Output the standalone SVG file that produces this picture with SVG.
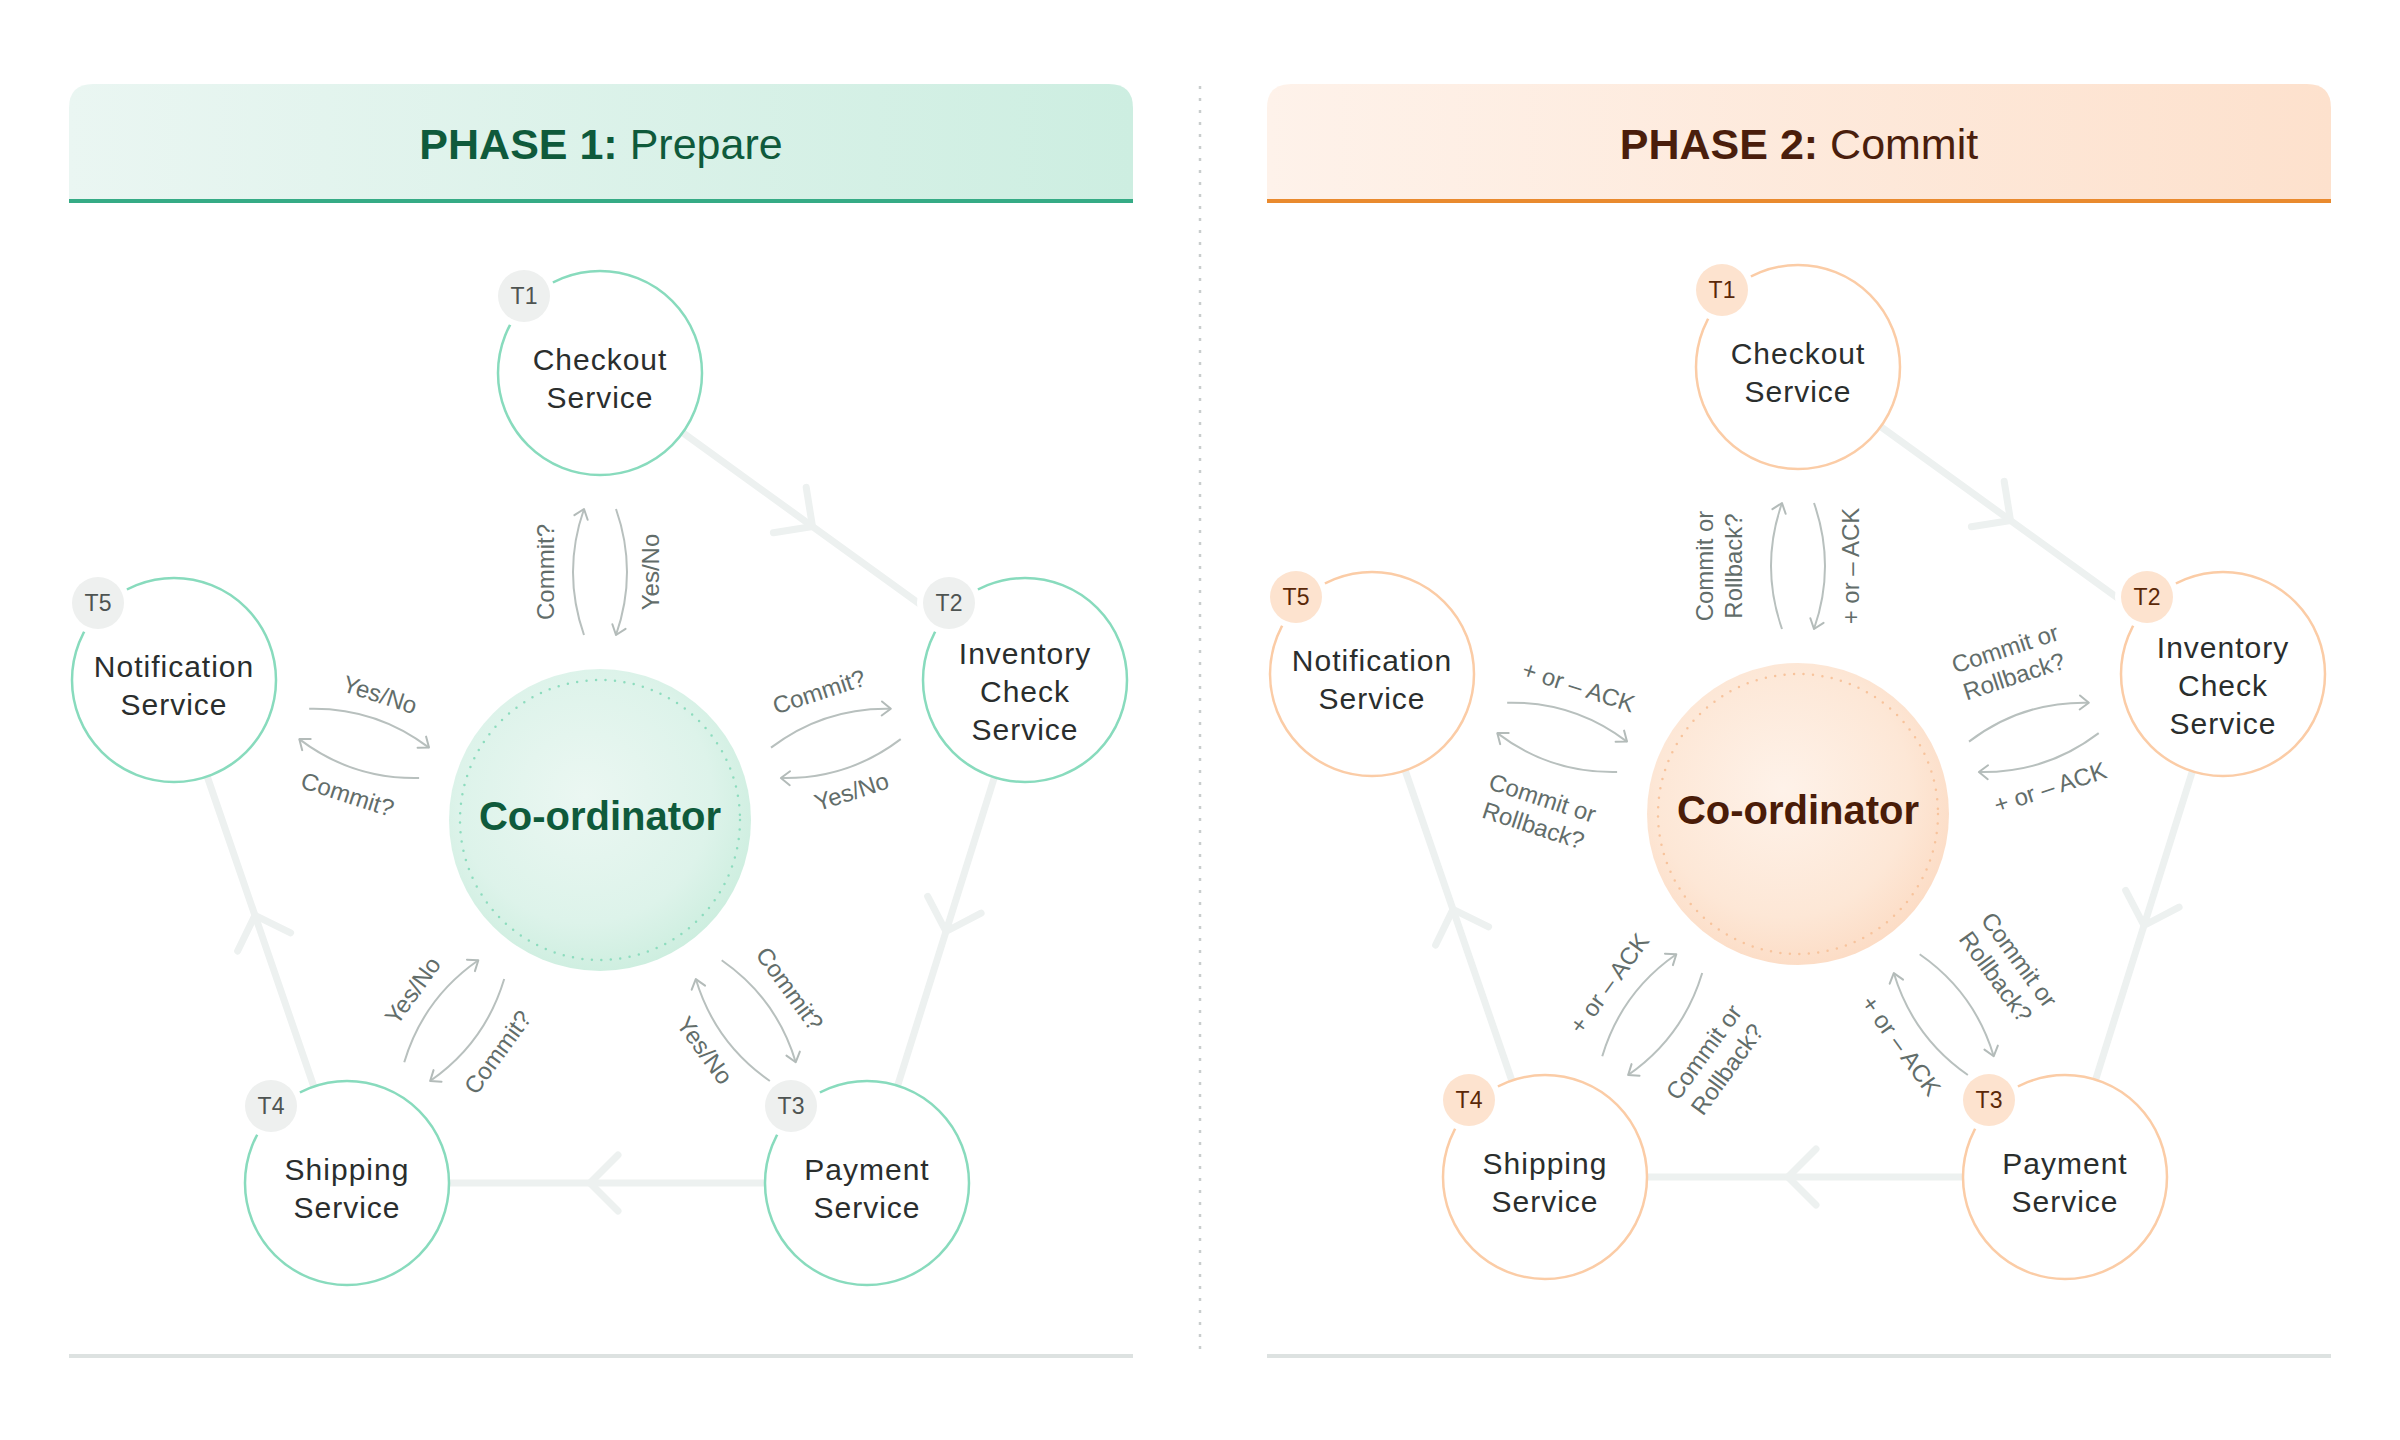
<svg xmlns="http://www.w3.org/2000/svg" width="2400" height="1440" viewBox="0 0 2400 1440">
<defs>
<linearGradient id="hg1" x1="0" y1="0" x2="1" y2="0"><stop offset="0" stop-color="#eaf6f2"/><stop offset="1" stop-color="#cdeee1"/></linearGradient>
<linearGradient id="hg2" x1="0" y1="0" x2="1" y2="0"><stop offset="0" stop-color="#fef2ea"/><stop offset="1" stop-color="#fde1cd"/></linearGradient>
<radialGradient id="cg1" cx="0.45" cy="0.42" r="0.6"><stop offset="0" stop-color="#ebf7f2"/><stop offset="0.7" stop-color="#ddf3ea"/><stop offset="1" stop-color="#cdeedf"/></radialGradient>
<radialGradient id="cg2" cx="0.45" cy="0.42" r="0.6"><stop offset="0" stop-color="#fef2e9"/><stop offset="0.7" stop-color="#fde7d6"/><stop offset="1" stop-color="#fcdcc5"/></radialGradient>
<marker id="ah" viewBox="-12 -10 14 20" markerWidth="14" markerHeight="20" refX="0" refY="0" orient="auto" markerUnits="userSpaceOnUse"><path d="M-9,-7 L0,0 L-9,7" fill="none" stroke="#b3bbb9" stroke-width="2" stroke-linecap="round" stroke-linejoin="round"/></marker>
<path id="chev" d="M-28,-28 L0,0 L-28,28"/>
</defs>
<style>
.ring{stroke:#edf1f0;stroke-width:7;stroke-linecap:round;stroke-linejoin:round;fill:none}
.arc{fill:none;stroke:#b8c0be;stroke-width:2;marker-end:url(#ah)}
.lbl{font-family:"Liberation Sans",Arial,sans-serif;font-size:24px;fill:#626d6a;text-anchor:middle}
.name{font-family:"Liberation Sans",Arial,sans-serif;font-size:30px;fill:#2a2e2d;text-anchor:middle;letter-spacing:1px}
.title{font-family:"Liberation Sans",Arial,sans-serif;font-size:43px;text-anchor:middle}
.coord{font-family:"Liberation Sans",Arial,sans-serif;font-size:40px;font-weight:bold;text-anchor:middle}
.n1{fill:#ffffff;stroke:#88dbbd;stroke-width:2.5}
.n2{fill:#ffffff;stroke:#fbcca6;stroke-width:2.5}
.bw{fill:#ffffff}
.b1{fill:#eef0ef}
.b2{fill:#fde3cf}
.bt{font-family:"Liberation Sans",Arial,sans-serif;font-size:23px;text-anchor:middle}
.bt1{fill:#4e5452}
.bt2{fill:#5a2808}
</style>
<rect x="0" y="0" width="2400" height="1440" fill="#ffffff"/>

<!-- headers -->
<g id="header1">
<path d="M69,199 V108 Q69,84 93,84 H1109 Q1133,84 1133,108 V199 Z" fill="url(#hg1)"/>
<rect x="69" y="199" width="1064" height="4" fill="#35ab85"/>
<text class="title" x="601" y="159" fill="#0f5a3b"><tspan font-weight="bold">PHASE 1:</tspan> Prepare</text>
</g>
<g id="header2">
<path d="M1267,199 V108 Q1267,84 1291,84 H2307 Q2331,84 2331,108 V199 Z" fill="url(#hg2)"/>
<rect x="1267" y="199" width="1064" height="4" fill="#e98a2e"/>
<text class="title" x="1799" y="159" fill="#4a1e0c"><tspan font-weight="bold">PHASE 2:</tspan> Commit</text>
</g>
<line x1="1200" y1="86" x2="1200" y2="1356" stroke="#c9cdcd" stroke-width="2.5" stroke-dasharray="3 9"/>
<rect x="69" y="1354" width="1064" height="4" fill="#dde2e1"/>
<rect x="1267" y="1354" width="1064" height="4" fill="#dde2e1"/>

<!-- PHASE 1 -->
<g id="phase1">
<g id="p1-connectors">
<path class="ring" d="M682.7,432.7 L942.3,620.3"/>
<use href="#chev" class="ring" transform="translate(812.5,526.5) rotate(35.84)"/>
<path class="ring" d="M994.4,777.3 L897.6,1085.7"/>
<use href="#chev" class="ring" transform="translate(946,931.5) rotate(107.44)"/>
<path class="ring" d="M765,1183 L449,1183"/>
<use href="#chev" class="ring" transform="translate(590,1183) rotate(180)"/>
<path class="ring" d="M313.8,1086.5 L207.2,776.5"/>
<use href="#chev" class="ring" transform="translate(255,915.4) rotate(-108.98)"/>

<g transform="rotate(0 600 820)">
<path class="arc" d="M584,635 Q562,572 584,509"/><path class="arc" d="M616,509 Q638,572 616,635"/>
<g transform="translate(546,572) rotate(-90)"><text class="lbl" y="8">Commit?</text></g>
<g transform="translate(651,572) rotate(-90)"><text class="lbl" y="8">Yes/No</text></g>
</g>
<g transform="rotate(72 600 820)">
<path class="arc" d="M584,635 Q562,572 584,509"/><path class="arc" d="M616,509 Q638,572 616,635"/>
<g transform="translate(546,572) rotate(-90)"><text class="lbl" y="8">Commit?</text></g>
<g transform="translate(651,572) rotate(-90)"><text class="lbl" y="8">Yes/No</text></g>
</g>
<g transform="rotate(144 600 820)">
<path class="arc" d="M584,635 Q562,572 584,509"/><path class="arc" d="M616,509 Q638,572 616,635"/>
<g transform="translate(546,572) rotate(-90)"><text class="lbl" y="8">Commit?</text></g>
<g transform="translate(651,572) rotate(-90)"><text class="lbl" y="8">Yes/No</text></g>
</g>
<g transform="rotate(216 600 820)">
<path class="arc" d="M584,635 Q562,572 584,509"/><path class="arc" d="M616,509 Q638,572 616,635"/>
<g transform="translate(546,572) rotate(90)"><text class="lbl" y="8">Commit?</text></g>
<g transform="translate(651,572) rotate(90)"><text class="lbl" y="8">Yes/No</text></g>
</g>
<g transform="rotate(288 600 820)">
<path class="arc" d="M584,635 Q562,572 584,509"/><path class="arc" d="M616,509 Q638,572 616,635"/>
<g transform="translate(546,572) rotate(90)"><text class="lbl" y="8">Commit?</text></g>
<g transform="translate(651,572) rotate(90)"><text class="lbl" y="8">Yes/No</text></g>
</g>
</g>

<g id="p1-coordinator">
<circle cx="600" cy="820" r="151" fill="url(#cg1)"/>
<circle cx="600" cy="820" r="140" fill="none" stroke="#8ddcbe" stroke-width="2.5" stroke-dasharray="0 9.5" stroke-linecap="round"/>
<text class="coord" x="600" y="830" fill="#0f5a3b">Co-ordinator</text>
</g>
<g id="p1-checkout">
<circle class="n1" cx="600" cy="373" r="102"/>
<circle class="bw" cx="524" cy="296" r="32"/><circle class="b1" cx="524" cy="296" r="26"/>
<text class="bt bt1" x="524" y="304">T1</text>
<text class="name" x="600" y="370">Checkout</text><text class="name" x="600" y="408">Service</text>
</g>
<g id="p1-inventory">
<circle class="n1" cx="1025" cy="680" r="102"/>
<circle class="bw" cx="949" cy="603" r="32"/><circle class="b1" cx="949" cy="603" r="26"/>
<text class="bt bt1" x="949" y="611">T2</text>
<text class="name" x="1025" y="664">Inventory</text><text class="name" x="1025" y="702">Check</text><text class="name" x="1025" y="740">Service</text>
</g>
<g id="p1-payment">
<circle class="n1" cx="867" cy="1183" r="102"/>
<circle class="bw" cx="791" cy="1106" r="32"/><circle class="b1" cx="791" cy="1106" r="26"/>
<text class="bt bt1" x="791" y="1114">T3</text>
<text class="name" x="867" y="1180">Payment</text><text class="name" x="867" y="1218">Service</text>
</g>
<g id="p1-shipping">
<circle class="n1" cx="347" cy="1183" r="102"/>
<circle class="bw" cx="271" cy="1106" r="32"/><circle class="b1" cx="271" cy="1106" r="26"/>
<text class="bt bt1" x="271" y="1114">T4</text>
<text class="name" x="347" y="1180">Shipping</text><text class="name" x="347" y="1218">Service</text>
</g>
<g id="p1-notification">
<circle class="n1" cx="174" cy="680" r="102"/>
<circle class="bw" cx="98" cy="603" r="32"/><circle class="b1" cx="98" cy="603" r="26"/>
<text class="bt bt1" x="98" y="611">T5</text>
<text class="name" x="174" y="677">Notification</text><text class="name" x="174" y="715">Service</text>
</g>
</g>

<!-- PHASE 2 -->
<g id="phase2" transform="translate(1198,-6)">
<g id="p2-connectors">
<path class="ring" d="M682.7,432.7 L942.3,620.3"/>
<use href="#chev" class="ring" transform="translate(812.5,526.5) rotate(35.84)"/>
<path class="ring" d="M994.4,777.3 L897.6,1085.7"/>
<use href="#chev" class="ring" transform="translate(946,931.5) rotate(107.44)"/>
<path class="ring" d="M765,1183 L449,1183"/>
<use href="#chev" class="ring" transform="translate(590,1183) rotate(180)"/>
<path class="ring" d="M313.8,1086.5 L207.2,776.5"/>
<use href="#chev" class="ring" transform="translate(255,915.4) rotate(-108.98)"/>

<g transform="rotate(0 600 820)">
<path class="arc" d="M584,635 Q562,572 584,509"/><path class="arc" d="M616,509 Q638,572 616,635"/>
<g transform="translate(521.5,572) rotate(-90)"><text class="lbl" y="-6.5">Commit or</text><text class="lbl" y="22.5">Rollback?</text></g>
<g transform="translate(653,572) rotate(-90)"><text class="lbl" y="8">+ or – ACK</text></g>
</g>
<g transform="rotate(72 600 820)">
<path class="arc" d="M584,635 Q562,572 584,509"/><path class="arc" d="M616,509 Q638,572 616,635"/>
<g transform="translate(521.5,572) rotate(-90)"><text class="lbl" y="-6.5">Commit or</text><text class="lbl" y="22.5">Rollback?</text></g>
<g transform="translate(653,572) rotate(-90)"><text class="lbl" y="8">+ or – ACK</text></g>
</g>
<g transform="rotate(144 600 820)">
<path class="arc" d="M584,635 Q562,572 584,509"/><path class="arc" d="M616,509 Q638,572 616,635"/>
<g transform="translate(521.5,572) rotate(-90)"><text class="lbl" y="-6.5">Commit or</text><text class="lbl" y="22.5">Rollback?</text></g>
<g transform="translate(653,572) rotate(-90)"><text class="lbl" y="8">+ or – ACK</text></g>
</g>
<g transform="rotate(216 600 820)">
<path class="arc" d="M584,635 Q562,572 584,509"/><path class="arc" d="M616,509 Q638,572 616,635"/>
<g transform="translate(521.5,572) rotate(90)"><text class="lbl" y="-6.5">Commit or</text><text class="lbl" y="22.5">Rollback?</text></g>
<g transform="translate(653,572) rotate(90)"><text class="lbl" y="8">+ or – ACK</text></g>
</g>
<g transform="rotate(288 600 820)">
<path class="arc" d="M584,635 Q562,572 584,509"/><path class="arc" d="M616,509 Q638,572 616,635"/>
<g transform="translate(521.5,572) rotate(90)"><text class="lbl" y="-6.5">Commit or</text><text class="lbl" y="22.5">Rollback?</text></g>
<g transform="translate(653,572) rotate(90)"><text class="lbl" y="8">+ or – ACK</text></g>
</g>
</g>

<g id="p2-coordinator">
<circle cx="600" cy="820" r="151" fill="url(#cg2)"/>
<circle cx="600" cy="820" r="140" fill="none" stroke="#f7c39c" stroke-width="2.5" stroke-dasharray="0 9.5" stroke-linecap="round"/>
<text class="coord" x="600" y="830" fill="#4a1c08">Co-ordinator</text>
</g>
<g id="p2-checkout">
<circle class="n2" cx="600" cy="373" r="102"/>
<circle class="bw" cx="524" cy="296" r="32"/><circle class="b2" cx="524" cy="296" r="26"/>
<text class="bt bt2" x="524" y="304">T1</text>
<text class="name" x="600" y="370">Checkout</text><text class="name" x="600" y="408">Service</text>
</g>
<g id="p2-inventory">
<circle class="n2" cx="1025" cy="680" r="102"/>
<circle class="bw" cx="949" cy="603" r="32"/><circle class="b2" cx="949" cy="603" r="26"/>
<text class="bt bt2" x="949" y="611">T2</text>
<text class="name" x="1025" y="664">Inventory</text><text class="name" x="1025" y="702">Check</text><text class="name" x="1025" y="740">Service</text>
</g>
<g id="p2-payment">
<circle class="n2" cx="867" cy="1183" r="102"/>
<circle class="bw" cx="791" cy="1106" r="32"/><circle class="b2" cx="791" cy="1106" r="26"/>
<text class="bt bt2" x="791" y="1114">T3</text>
<text class="name" x="867" y="1180">Payment</text><text class="name" x="867" y="1218">Service</text>
</g>
<g id="p2-shipping">
<circle class="n2" cx="347" cy="1183" r="102"/>
<circle class="bw" cx="271" cy="1106" r="32"/><circle class="b2" cx="271" cy="1106" r="26"/>
<text class="bt bt2" x="271" y="1114">T4</text>
<text class="name" x="347" y="1180">Shipping</text><text class="name" x="347" y="1218">Service</text>
</g>
<g id="p2-notification">
<circle class="n2" cx="174" cy="680" r="102"/>
<circle class="bw" cx="98" cy="603" r="32"/><circle class="b2" cx="98" cy="603" r="26"/>
<text class="bt bt2" x="98" y="611">T5</text>
<text class="name" x="174" y="677">Notification</text><text class="name" x="174" y="715">Service</text>
</g>
</g>
</svg>
